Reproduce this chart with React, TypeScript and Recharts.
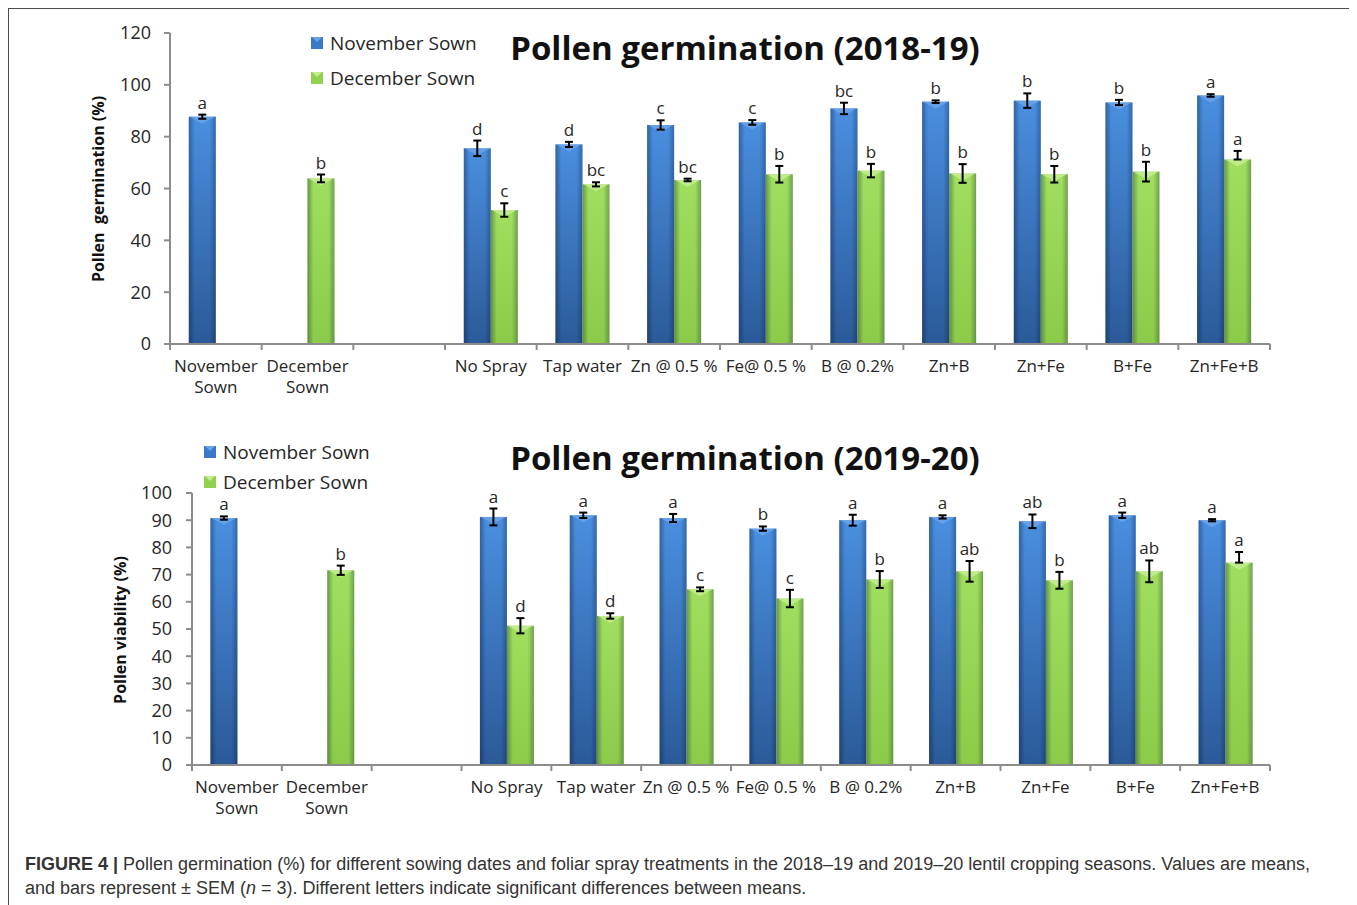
import React from "react";
import { BarChart, Bar, XAxis, YAxis, ErrorBar, LabelList, Legend } from "recharts";

const categories = [
  "November\nSown",
  "December\nSown",
  "",
  "No Spray",
  "Tap water",
  "Zn @ 0.5 %",
  "Fe@ 0.5 %",
  "B @ 0.2%",
  "Zn+B",
  "Zn+Fe",
  "B+Fe",
  "Zn+Fe+B",
];

// 2018-19
const nov1 = [87.7, null, null, 75.5, 77.0, 84.5, 85.5, 90.9, 93.5, 93.9, 93.2, 95.9];
const novErr1 = [0.8, null, null, 3.0, 1.0, 1.8, 0.9, 2.2, 0.5, 2.8, 1.0, 0.5];
const novLet1 = ["a", "", "", "d", "d", "c", "c", "bc", "b", "b", "b", "a"];
const dec1 = [null, 63.9, null, 51.7, 61.6, 63.3, 65.5, 66.9, 65.8, 65.5, 66.5, 71.2];
const decErr1: any[] = [null, 1.5, null, 2.6, 0.8, 0.5, 3.2, 2.6, 3.6, 3.2, 3.8, [0, 3.3]];
const decLet1 = ["", "b", "", "c", "bc", "bc", "b", "b", "b", "b", "b", "a"];
const ticks1 = [0, 20, 40, 60, 80, 100, 120];

// 2019-20
const nov2 = [90.8, null, null, 91.2, 91.8, 90.8, 86.9, 90.0, 91.2, 89.6, 91.8, 90.0];
const novErr2 = [0.6, null, null, 3.1, 1.0, 1.5, 0.8, 2.0, 0.6, 2.5, 1.0, 0.4];
const novLet2 = ["a", "", "", "a", "a", "a", "b", "a", "a", "ab", "a", "a"];
const dec2 = [null, 71.6, null, 51.2, 54.8, 64.6, 61.2, 68.2, 71.2, 67.9, 71.2, 74.4];
const decErr2: any[] = [null, 1.7, null, 2.8, 1.0, 0.7, 3.2, 3.1, 3.8, 3.1, 4.0, [0, 3.9]];
const decLet2 = ["", "b", "", "d", "d", "c", "c", "b", "ab", "b", "ab", "a"];
const ticks2 = [0, 10, 20, 30, 40, 50, 60, 70, 80, 90, 100];

const FONT = "'Open Sans', sans-serif";
const AXIS = "#8c8c8c";
const TXT = "#262626";

function buildRows(nov, novErr, novLet, dec, decErr, decLet) {
  return categories.map((name, i) => ({
    name,
    nov: nov[i],
    novErr: novErr[i],
    novLet: novLet[i],
    dec: dec[i],
    decErr: decErr[i],
    decLet: decLet[i],
  }));
}

const rows1 = buildRows(nov1, novErr1, novLet1, dec1, decErr1, decLet1);
const rows2 = buildRows(nov2, novErr2, novLet2, dec2, decErr2, decLet2);

function Gradients({ id }: { id: string }) {
  return (
    <defs>
      <linearGradient id={`blue${id}`} x1="0" y1="0" x2="0" y2="1">
        <stop offset="0%" stopColor="#4a8fe0" />
        <stop offset="100%" stopColor="#2b5a98" />
      </linearGradient>
      <linearGradient id={`green${id}`} x1="0" y1="0" x2="0" y2="1">
        <stop offset="0%" stopColor="#9fde5e" />
        <stop offset="100%" stopColor="#8ccb4a" />
      </linearGradient>
      <linearGradient id={`edge${id}`} x1="0" y1="0" x2="1" y2="0">
        <stop offset="0%" stopColor="#001030" stopOpacity={0.35} />
        <stop offset="22%" stopColor="#001030" stopOpacity={0} />
        <stop offset="78%" stopColor="#001030" stopOpacity={0} />
        <stop offset="100%" stopColor="#001030" stopOpacity={0.3} />
      </linearGradient>
    </defs>
  );
}

function barShape(fillId: string, edgeId: string, capColor: string) {
  return (p: any) => {
    const { x, y, width, height } = p;
    if (!height || height <= 0) return null;
    return (
      <g>
        <rect x={x} y={y} width={width} height={height} fill={`url(#${fillId})`} />
        <rect x={x} y={y} width={width} height={height} fill={`url(#${edgeId})`} />
        <polygon
          points={`${x + 1},${y} ${x + width - 1},${y} ${x + width / 2},${y + 7}`}
          fill={capColor}
          opacity={0.85}
        />
      </g>
    );
  };
}

// letter above the error bar; the whole row comes in as the label value
function letterLabel(valKey: string, errKey: string, letKey: string) {
  return (p: any) => {
    const { x, y, width, height, value } = p;
    const row = value;
    if (!row || !row[letKey] || row[valKey] == null || !height) return null;
    const err = row[errKey];
    const up = Array.isArray(err) ? err[1] : err || 0;
    const top = y - (up * height) / row[valKey];
    return (
      <text
        x={x + width / 2}
        y={top - 6}
        textAnchor="middle"
        fontFamily={FONT}
        fontSize={17}
        fill={TXT}
      >
        {row[letKey]}
      </text>
    );
  };
}

function catTick(half: number) {
  return (p: any) => {
    const { x, y, payload, index } = p;
    const lines = String(payload.value).split("\n");
    return (
      <g>
        <line x1={x - half} x2={x - half} y1={y} y2={y + 6} stroke={AXIS} strokeWidth={2} />
        {index === categories.length - 1 && (
          <line x1={x + half} x2={x + half} y1={y} y2={y + 6} stroke={AXIS} strokeWidth={2} />
        )}
        <text x={x} y={y + 28} textAnchor="middle" fontFamily={FONT} fontSize={17} fill={TXT}>
          {lines.map((l, i) => (
            <tspan key={i} x={x} dy={i === 0 ? 0 : 21}>
              {l}
            </tspan>
          ))}
        </text>
      </g>
    );
  };
}

function legendContent(rowH: number) {
  const items = [
    { name: "November Sown", color: "#3a78c8", cap: "#6aa5ea" },
    { name: "December Sown", color: "#92d050", cap: "#c2ee8e" },
  ];
  return () => (
    <div style={{ fontFamily: FONT, fontSize: 19, color: TXT }}>
      {items.map((it) => (
        <div key={it.name} style={{ display: "flex", alignItems: "center", height: rowH }}>
          <svg width={12} height={12} style={{ marginRight: 7 }}>
            <rect x={0} y={0} width={12} height={12} fill={it.color} />
            <polygon points="1,0 11,0 6,5" fill={it.cap} />
          </svg>
          <span>{it.name}</span>
        </div>
      ))}
    </div>
  );
}

function SeasonChart({ rows, id, width, height, margin, yWidth, yMax, ticks, tickMargin, legendPos, legendRow }) {
  const plotW = width - margin.left - margin.right - yWidth;
  const half = plotW / categories.length / 2;
  return (
    <BarChart
      width={width}
      height={height}
      data={rows}
      margin={margin}
      barCategoryGap="20.5%"
      barGap={0}
    >
      <Gradients id={id} />
      <XAxis
        dataKey="name"
        interval={0}
        height={50}
        tickLine={false}
        tickSize={0}
        tickMargin={0}
        axisLine={{ stroke: AXIS, strokeWidth: 2 }}
        tick={catTick(half)}
      />
      <YAxis
        type="number"
        domain={[0, yMax]}
        ticks={ticks}
        interval={0}
        width={yWidth}
        tickSize={6}
        tickMargin={tickMargin}
        axisLine={{ stroke: AXIS, strokeWidth: 2 }}
        tickLine={{ stroke: AXIS, strokeWidth: 2 }}
        tick={{ fontFamily: FONT, fontSize: 18, fill: TXT }}
      />
      <Legend
        layout="vertical"
        align="center"
        verticalAlign="middle"
        content={legendContent(legendRow)}
        wrapperStyle={{ left: legendPos.left, top: legendPos.top, width: 220 }}
      />
      <Bar
        dataKey="nov"
        name="November Sown"
        fill="#3a78c8"
        isAnimationActive={false}
        shape={barShape(`blue${id}`, `edge${id}`, "#6aa5ea")}
      >
        <ErrorBar dataKey="novErr" width={4} stroke="#000" strokeWidth={2} direction="y" />
        <LabelList dataKey={(r: any) => r} content={letterLabel("nov", "novErr", "novLet")} />
      </Bar>
      <Bar
        dataKey="dec"
        name="December Sown"
        fill="#92d050"
        isAnimationActive={false}
        shape={barShape(`green${id}`, `edge${id}`, "#c4ef90")}
      >
        <ErrorBar dataKey="decErr" width={4} stroke="#000" strokeWidth={2} direction="y" />
        <LabelList dataKey={(r: any) => r} content={letterLabel("dec", "decErr", "decLet")} />
      </Bar>
    </BarChart>
  );
}

const titleStyle: React.CSSProperties = {
  position: "absolute",
  left: 387,
  width: 700,
  textAlign: "center",
  fontFamily: FONT,
  fontWeight: 700,
  fontSize: 33,
  lineHeight: "33px",
  color: "#111",
};

const yLabelStyle: React.CSSProperties = {
  position: "absolute",
  width: 260,
  height: 20,
  lineHeight: "20px",
  textAlign: "center",
  transform: "rotate(-90deg)",
  fontFamily: FONT,
  fontWeight: 700,
  fontSize: 16,
  color: "#111",
  whiteSpace: "pre",
};

export default function App() {
  return (
    <div style={{ position: "relative", width: 1349, height: 897 }}>
      <style>{"html,body{overflow:hidden}"}</style>
      <div
        style={{
          position: "absolute",
          left: 0,
          top: 0,
          width: 1346,
          height: 900,
          borderLeft: "1px solid #4d4d4d",
          borderTop: "1px solid #4d4d4d",
          borderRight: "1px solid #4d4d4d",
        }}
      />
      <div style={{ position: "absolute", left: 0, top: 0 }}>
        <SeasonChart
          rows={rows1}
          id="a"
          width={1300}
          height={400}
          margin={{ top: 25, right: 38, left: 100, bottom: 14 }}
          yWidth={62}
          yMax={120}
          ticks={ticks1}
          tickMargin={13}
          legendPos={{ left: 303, top: 17 }}
          legendRow={35}
        />
      </div>
      <div style={{ ...titleStyle, top: 23 }}>Pollen germination (2018-19)</div>
      <div style={{ ...yLabelStyle, left: 98 - 130 - 8, top: 189 - 10 - 8 }}>Pollen  germination (%)</div>

      <div style={{ position: "absolute", left: 0, top: 420 }}>
        <SeasonChart
          rows={rows2}
          id="b"
          width={1300}
          height={420}
          margin={{ top: 65, right: 38, left: 120, bottom: 33 }}
          yWidth={64}
          yMax={100}
          ticks={ticks2}
          tickMargin={14}
          legendPos={{ left: 196, top: 9 }}
          legendRow={30}
        />
      </div>
      <div style={{ ...titleStyle, top: 433 }}>Pollen germination (2019-20)</div>
      <div style={{ ...yLabelStyle, left: 120 - 130 - 8, top: 630 - 10 - 8 }}>Pollen viability (%)</div>

      <div
        style={{
          position: "absolute",
          left: 17,
          top: 844,
          fontFamily: "'Liberation Sans', Arial, sans-serif",
          fontSize: 18,
          lineHeight: "24px",
          color: "#333",
          whiteSpace: "nowrap",
        }}
      >
        <b>FIGURE 4 |</b> Pollen germination (%) for different sowing dates and foliar spray treatments in the
        2018–19 and 2019–20 lentil cropping seasons. Values are means,
        <br />
        and bars represent ± SEM (<i>n</i> = 3). Different letters indicate significant differences between means.
      </div>
    </div>
  );
}
